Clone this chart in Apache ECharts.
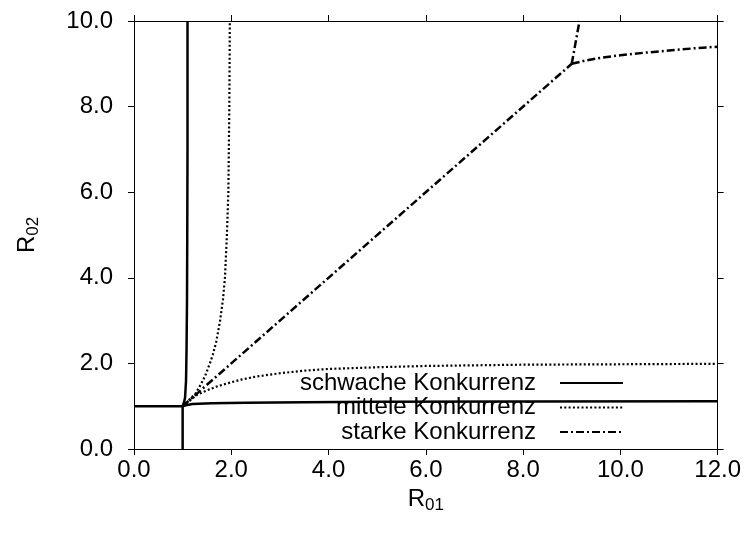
<!DOCTYPE html>
<html>
<head>
<meta charset="utf-8">
<script src="https://cdn.jsdelivr.net/npm/echarts@6/dist/echarts.min.js"></script>
<style>html,body{margin:0;padding:0;background:#fff;}#c{width:744px;height:533px;}</style>
</head>
<body>
<div id="c"></div>
<script>
// Legend names
const seriesNames = ['schwache Konkurrenz', 'mittele Konkurrenz', 'starke Konkurrenz'];
// Axis ticks
const xTicks = [0, 2, 4, 6, 8, 10, 12];
const yTicks = [0, 2, 4, 6, 8, 10];

// schwache Konkurrenz (solid)
const weakLeftX = [0, 1];
const weakLeftY = [1, 1];
const weakDownX = [1, 1];
const weakDownY = [0, 1];
const weakUpperX = [1, 1.03, 1.05, 1.07, 1.08, 1.09, 1.095, 1.1, 1.1];
const weakUpperY = [1, 1.1, 1.2, 1.6, 2.3, 3.5, 5, 7, 10];
const weakLowerX = [1, 1.1, 1.2, 1.6, 2.3, 3.5, 5, 8, 12];
const weakLowerY = [1, 1.03, 1.05, 1.07, 1.08, 1.095, 1.105, 1.11, 1.115];

// mittele Konkurrenz (dotted)
const midUpperX = [1, 1.13, 1.27, 1.37, 1.46, 1.56, 1.62, 1.69, 1.77, 1.83, 1.87, 1.91, 1.94, 1.96, 1.97];
const midUpperY = [1, 1.15, 1.3, 1.5, 1.7, 2.0, 2.2, 2.5, 3, 3.5, 4, 5, 6, 8, 10];
const midLowerX = [1, 1.15, 1.3, 1.5, 1.7, 2.0, 2.2, 2.5, 3, 3.5, 4, 5, 6, 8, 10, 12];
const midLowerY = [1, 1.13, 1.27, 1.37, 1.46, 1.56, 1.62, 1.69, 1.77, 1.83, 1.87, 1.91, 1.94, 1.97, 1.98, 1.99];

// starke Konkurrenz (dash-dot)
const strongDiagX = [1, 9];
const strongDiagY = [1, 9];
const strongUpperX = [9, 9.08, 9.16];
const strongUpperY = [9, 9.5, 10];
const strongLowerX = [9, 9.3, 9.6, 10, 10.5, 11, 11.5, 12];
const strongLowerY = [9, 9.08, 9.14, 9.2, 9.26, 9.31, 9.36, 9.4];

function pts(xs, ys) { return xs.map((x, i) => [x, ys[i]]); }

const FONT = "'Liberation Sans', Arial, sans-serif";
const styles = [
  { color: '#000', width: 2.5, type: 'solid' },
  { color: '#000', width: 2.2, type: [2, 2.3] },
  { color: '#000', width: 2.5, type: [8, 3, 2, 3] }
];

function mk(nameIdx, xs, ys) {
  return {
    type: 'line', name: seriesNames[nameIdx], data: pts(xs, ys),
    symbol: 'none', showSymbol: false, animation: false, smooth: false,
    lineStyle: styles[nameIdx], itemStyle: { color: '#000' }, z: 3
  };
}

const series = [
  mk(0, weakUpperX, weakUpperY),
  mk(0, weakLeftX, weakLeftY),
  mk(0, weakDownX, weakDownY),
  mk(0, weakLowerX, weakLowerY),
  mk(1, midUpperX, midUpperY),
  mk(1, midLowerX, midLowerY),
  mk(2, strongDiagX, strongDiagY),
  mk(2, strongUpperX, strongUpperY),
  mk(2, strongLowerX, strongLowerY)
];

const axisLine = { show: true, onZero: false, lineStyle: { color: '#000', width: 1 } };
const tick = { show: true, inside: false, length: 6, lineStyle: { color: '#000' } };
const fmt = v => v.toFixed(1);

const option = {
  animation: false,
  backgroundColor: '#fff',
  textStyle: { fontFamily: FONT },
  grid: { left: 134, right: 26, top: 21, bottom: 84, containLabel: false },
  legend: {
    data: seriesNames,
    orient: 'vertical',
    align: 'right',
    right: 115,
    top: 366,
    itemWidth: 63,
    itemHeight: 10,
    itemGap: 0.5,
    itemStyle: { opacity: 0 },
    textStyle: { fontFamily: FONT, fontSize: 24, color: '#000', lineHeight: 24, padding: [0, 19, 0, 0] },
    selectedMode: false
  },
  xAxis: [
    {
      type: 'value', position: 'bottom', min: xTicks[0], max: xTicks[xTicks.length - 1], interval: 2,
      axisLine, axisTick: tick, splitLine: { show: false },
      axisLabel: { formatter: fmt, fontFamily: FONT, fontSize: 24, color: '#000', margin: 9 },
      name: '{a|R}{b|01}', nameLocation: 'middle', nameGap: 30,
      nameTextStyle: { rich: {
        a: { fontFamily: FONT, fontSize: 24, color: '#000' },
        b: { fontFamily: FONT, fontSize: 17, color: '#000', padding: [12, 0, 0, 0] }
      } }
    },
    {
      type: 'value', position: 'top', min: xTicks[0], max: xTicks[xTicks.length - 1], interval: 2,
      axisLine, axisTick: tick, splitLine: { show: false }, axisLabel: { show: false }
    }
  ],
  yAxis: [
    {
      type: 'value', position: 'left', min: yTicks[0], max: yTicks[yTicks.length - 1], interval: 2,
      axisLine, axisTick: tick, splitLine: { show: false },
      axisLabel: { formatter: fmt, fontFamily: FONT, fontSize: 24, color: '#000', margin: 21 },
      name: '{a|R}{b|02}', nameLocation: 'middle', nameGap: 92, nameRotate: 90,
      nameTextStyle: { rich: {
        a: { fontFamily: FONT, fontSize: 24, color: '#000' },
        b: { fontFamily: FONT, fontSize: 17, color: '#000', padding: [12, 0, 0, 0] }
      } }
    },
    {
      type: 'value', position: 'right', min: yTicks[0], max: yTicks[yTicks.length - 1], interval: 2,
      axisLine, axisTick: tick, splitLine: { show: false }, axisLabel: { show: false }
    }
  ],
  series
};

const chart = echarts.init(document.getElementById('c'), null, { renderer: 'canvas' });
chart.setOption(option);
</script>
</body>
</html>
